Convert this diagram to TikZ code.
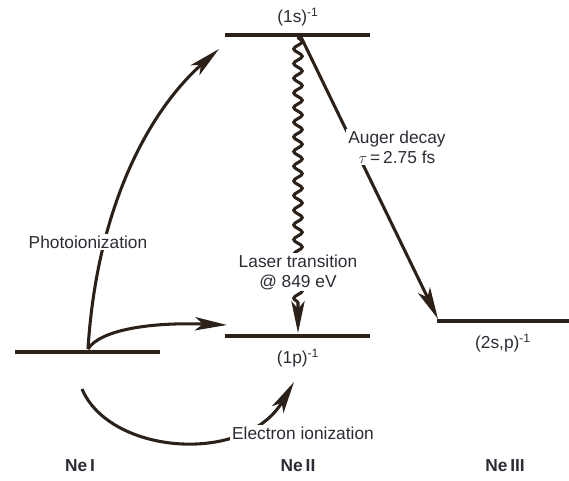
\documentclass[tikz,border=0pt]{standalone}
\usepackage{fontspec}
\setmainfont{Liberation Sans}
\usetikzlibrary{arrows.meta,decorations.pathmorphing}
\definecolor{ink}{HTML}{2B2118}
\definecolor{txt}{HTML}{2C2C36}

\begin{document}
\begin{tikzpicture}[x=0.75pt,y=-0.75pt,line width=2.3pt,>={Stealth[length=24pt,width=10pt,inset=6pt]},
  lvl/.style={ink,line width=2.4pt},
  tr/.style={->,ink,line width=2.3pt},
  lbl/.style={txt,font=\fontsize{13}{15}\selectfont,align=center,inner sep=1.5pt},
  ion/.style={txt,font=\bfseries\fontsize{13}{15}\selectfont}]
  \useasboundingbox (0,0) rectangle (569,481);
  % niveles
  \coordinate (neA) at (15,352); \coordinate (neB) at (160,352);
  \coordinate (sA) at (225,35);  \coordinate (sB) at (370,35);
  \coordinate (pA) at (225,336); \coordinate (pB) at (370,336);
  \coordinate (dA) at (437,321); \coordinate (dB) at (569,321);
  \draw[lvl] (neA)--(neB); \draw[lvl] (sA)--(sB);
  \draw[lvl] (pA)--(pB);   \draw[lvl] (dA)--(dB);
  \node[lbl] (s1) at (298,17){(1s)\textsuperscript{-1}};
  \node[lbl] (p1) at (298,358){(1p)\textsuperscript{-1}};
  \node[lbl] (d1) at (503,343){(2s,p)\textsuperscript{-1}};
  % puntos de las transiciones
  \coordinate (photo) at (88,349); \coordinate (eion) at (82,389);
  \coordinate (top) at (298,37);   \coordinate (aug) at (301,37);
  \draw[tr] (photo) .. controls (97,205) and (150,110) .. (219,49);
  \draw[tr] (photo) .. controls (100,330) and (150,322) .. (227,325);
  \draw[tr] (eion) .. controls (110,455) and (245,465) .. (294,382);
  \draw[tr] (aug) -- (438,319);
  \draw[tr,decorate,decoration={snake,amplitude=3.2pt,segment length=11pt,post length=21pt}] (top) -- (298,333);
  % textos
  \node[lbl,fill=white] (photolbl) at (88,242){Photoionization};
  \node[lbl,fill=white] (eionlbl) at (303,433){Electron ionization};
  \node[lbl,fill=white] (laser) at (298,272){Laser transition\\@ 849 eV};
  \node[lbl,fill=white] (auger) at (397,147){Auger decay\\$\tau$\,=\,2.75 fs};
  \node[ion] (ne1) at (80,466){Ne\,I};
  \node[ion] (ne2) at (298,466){Ne\,II};
  \node[ion] (ne3) at (505,466){Ne\,III};
\end{tikzpicture}
\end{document}
